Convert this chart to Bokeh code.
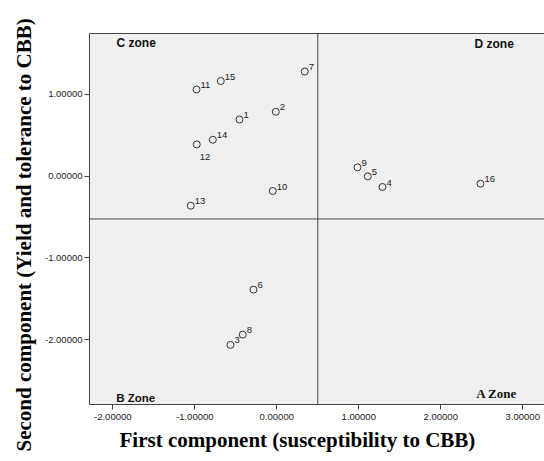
from bokeh.plotting import figure
from bokeh.models import (ColumnDataSource, Span, Label, FixedTicker, PrintfTickFormatter,
                          LinearAxis, Range1d, Title)
from bokeh.core.properties import value
from bokeh.embed import file_html
from bokeh.resources import INLINE

# ---- data ----
ids = ["1", "2", "3", "4", "5", "6", "7", "8", "9", "10", "11", "12", "13", "14", "15", "16"]
first_comp = [-0.455, -0.012, -0.565, 1.289, 1.110, -0.284, 0.341, -0.415,
              0.984, -0.049, -0.979, -0.976, -1.049, -0.780, -0.683, 2.484]
second_comp = [0.694, 0.789, -2.064, -0.132, -0.002, -1.388, 1.281, -1.938,
               0.108, -0.181, 1.061, 0.389, -0.361, 0.446, 1.164, -0.092]
x_ticks = [-2, -1, 0, 1, 2, 3]
y_ticks = [-2, -1, 0, 1]
x_split = 0.5
y_split = -0.523
zone_names = ["C zone", "D zone", "B Zone", "A Zone"]

x_title = "First component (susceptibility to CBB)"
y_title = "Second component (Yield and tolerance to CBB)"

SANS = "Liberation Sans"
SERIF = "Liberation Serif"
DARK = "#444444"

p = figure(width=544, height=461, output_backend="svg", toolbar_location=None,
           x_range=Range1d(-2.284, 3.265), y_range=Range1d(-2.793, 1.746),
           min_border_left=89, min_border_top=33, min_border_bottom=57, min_border_right=0)
p.background_fill_color = "#f0f0f0"
p.border_fill_color = "white"
p.outline_line_color = None
p.xgrid.visible = False
p.ygrid.visible = False

for ax, ticks in ((p.xaxis[0], x_ticks), (p.yaxis[0], y_ticks)):
    ax.ticker = FixedTicker(ticks=ticks)
    ax.formatter = PrintfTickFormatter(format="%.5f")
    ax.minor_tick_line_color = None
    ax.major_tick_out = 5
    ax.major_tick_in = 0
    ax.axis_line_color = DARK
    ax.major_tick_line_color = DARK
    ax.major_label_text_font = SANS
    ax.major_label_text_font_size = "9.5px"
    ax.major_label_text_color = "#222222"

p.xaxis.major_label_standoff = 4
p.yaxis.major_label_standoff = 2

# axis titles
p.add_layout(Title(text=x_title, align="left", offset=30, text_font=SERIF,
                   text_font_style="bold", text_font_size="21px", text_color="#000000",
                   standoff=7), "below")
p.add_layout(Title(text=y_title, align="left", offset=-47, text_font=SERIF,
                   text_font_style="bold", text_font_size="21px", text_color="#000000",
                   standoff=12), "left")

# top border as an empty axis
top = LinearAxis(ticker=FixedTicker(ticks=[]), major_label_text_font_size="0px",
                 major_tick_out=0, major_tick_in=0, minor_tick_out=0, minor_tick_in=0,
                 major_label_standoff=0, axis_line_color=DARK)
p.add_layout(top, "above")

# quadrant lines
p.add_layout(Span(location=x_split, dimension="height", line_color=DARK, line_width=1))
p.add_layout(Span(location=y_split, dimension="width", line_color=DARK, line_width=1))

src = ColumnDataSource(dict(x=first_comp, y=second_comp, id=ids))
p.scatter("x", "y", source=src, size=7, fill_color=None, line_color="#333333", line_width=1)

# point labels
up_idx = [i for i, s in enumerate(ids) if s != "12"]
down_idx = [i for i, s in enumerate(ids) if s == "12"]
up_src = ColumnDataSource(dict(x=[first_comp[i] for i in up_idx], y=[second_comp[i] for i in up_idx],
                               t=[ids[i] for i in up_idx]))
dn_src = ColumnDataSource(dict(x=[first_comp[i] for i in down_idx], y=[second_comp[i] for i in down_idx],
                               t=[ids[i] for i in down_idx]))
p.text("x", "y", text="t", source=up_src, x_offset=4, y_offset=-4.5, text_font=value(SANS),
       text_font_size="9.5px", text_color="#222222", text_baseline="alphabetic", text_align="left")
p.text("x", "y", text="t", source=dn_src, x_offset=3, y_offset=12.5, text_font=value(SANS),
       text_font_size="9.5px", text_color="#222222", text_baseline="alphabetic", text_align="left")

# zone labels
zone_specs = [(-1.955, 1.632, SANS, "12px"), (2.411, 1.616, SANS, "12px"),
              (-1.959, -2.711, SANS, "11.5px"), (2.432, -2.663, SERIF, "13px")]
for name, (zx, zy, font, fs) in zip(zone_names, zone_specs):
    p.add_layout(Label(x=zx, y=zy, text=name, text_font=font, text_font_style="bold",
                       text_font_size=fs, text_baseline="middle", text_align="left",
                       text_color="#111111"))

open("out.html", "w").write(file_html(p, INLINE))
